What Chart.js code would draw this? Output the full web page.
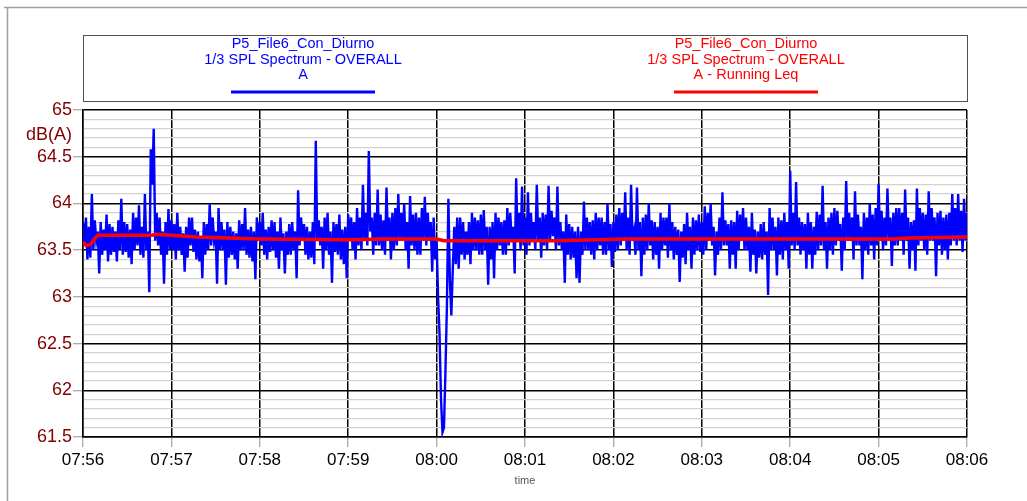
<!DOCTYPE html>
<html>
<head>
<meta charset="utf-8">
<script src="https://cdn.jsdelivr.net/npm/chart.js@4.4.1/dist/chart.umd.min.js"></script>
<style>
  body { margin: 0; background: #fff; }
  #chart { display: block; }
</style>
</head>
<body>
<canvas id="chart" width="1027" height="501"></canvas>
<script>
// x axis: seconds from 07:56, one label per minute
const timeLabels = ['07:56', '07:57', '07:58', '07:59', '08:00', '08:01', '08:02', '08:03', '08:04', '08:05', '08:06'];

// blue series, one reading per second
const blueStep = 1;
const levelA = [
  63.8, 63.55, 63.85, 63.4, 63.75, 63.42, 64.1, 63.5, 63.82, 63.6, 63.7, 63.25, 63.8, 63.45, 63.72, 63.5, 63.88, 63.38, 63.78, 63.45,
  63.75, 63.48, 63.7, 63.38, 63.82, 63.5, 64.05, 63.45, 63.8, 63.48, 63.78, 63.42, 63.72, 63.35, 63.9, 63.5, 63.85, 63.55, 63.98, 63.45,
  63.75, 63.42, 64.1, 63.5, 63.7, 63.05, 64.58, 64.2, 64.8, 63.6, 63.9, 63.55, 63.85, 63.45, 63.7, 63.14, 63.8, 63.45, 63.94, 63.5,
  63.82, 63.5, 63.78, 63.4, 63.9, 63.5, 63.75, 63.45, 63.68, 63.27, 63.75, 63.42, 63.85, 63.55, 63.85, 63.48, 63.72, 63.4, 63.7, 63.38,
  63.65, 63.2, 63.8, 63.45, 63.78, 63.5, 63.99, 63.55, 63.85, 63.6, 63.7, 63.14, 63.95, 63.5, 63.8, 63.5, 63.72, 63.13, 63.8, 63.42,
  63.75, 63.45, 63.7, 63.4, 63.68, 63.3, 63.82, 63.5, 63.78, 63.5, 63.95, 63.45, 63.72, 63.42, 63.75, 63.38, 63.7, 63.19, 63.85, 63.6,
  63.8, 63.55, 63.9, 63.45, 63.72, 63.4, 63.75, 63.48, 63.82, 63.5, 63.8, 63.42, 63.7, 63.3, 63.85, 63.5, 63.68, 63.25, 63.7, 63.45,
  63.78, 63.45, 63.8, 63.5, 63.7, 63.2, 64.14, 63.55, 63.85, 63.6, 63.78, 63.45, 63.75, 63.4, 63.7, 63.42, 63.8, 63.35, 64.67, 63.6,
  63.82, 63.55, 63.75, 63.3, 63.85, 63.5, 63.9, 63.45, 63.7, 63.15, 63.8, 63.48, 63.78, 63.45, 63.88, 63.4, 63.72, 63.35, 63.75, 63.2,
  63.88, 63.6, 63.85, 63.5, 63.8, 63.4, 63.95, 63.55, 63.85, 63.5, 64.2, 63.6, 63.9, 63.55, 64.56, 63.7, 63.85, 63.45, 63.9, 63.55,
  64.15, 63.55, 63.88, 63.5, 63.82, 63.45, 64.17, 63.6, 63.85, 63.4, 63.9, 63.5, 63.95, 63.55, 64.1, 63.6, 63.9, 63.6, 64.0, 63.5,
  63.8, 63.3, 64.08, 63.55, 63.88, 63.5, 63.9, 63.45, 63.85, 63.45, 63.95, 63.6, 64.07, 63.55, 63.9, 63.6, 63.8, 63.27, 63.85, 63.4,
  63.6, 63.0, 62.6, 61.9, 61.55, 61.6, 62.2, 62.9, 64.05, 63.18, 62.8, 63.3, 63.75, 63.35, 63.85, 63.3, 63.85, 63.45, 63.8, 63.4,
  63.7, 63.45, 63.8, 63.35, 63.9, 63.5, 63.85, 63.5, 63.82, 63.45, 63.88, 63.45, 63.93, 63.5, 63.75, 63.13, 63.75, 63.4, 63.8, 63.2,
  63.9, 63.5, 63.85, 63.55, 63.8, 63.45, 63.82, 63.45, 63.95, 63.55, 63.9, 63.6, 63.75, 63.25, 64.27, 63.6, 63.9, 63.5, 64.18, 63.55,
  63.85, 63.45, 64.12, 63.55, 63.9, 63.6, 63.8, 63.5, 64.2, 63.6, 63.85, 63.42, 63.9, 63.55, 63.88, 63.5, 64.19, 63.6, 63.92, 63.65,
  63.85, 63.5, 64.18, 63.55, 63.8, 63.5, 63.7, 63.15, 63.88, 63.45, 63.78, 63.4, 63.75, 63.42, 63.7, 63.2, 63.75, 63.15, 63.7, 63.45,
  64.02, 63.5, 63.85, 63.5, 63.8, 63.45, 63.82, 63.4, 63.9, 63.5, 63.85, 63.55, 63.85, 63.45, 63.8, 63.45, 64.0, 63.5, 63.78, 63.32,
  63.8, 63.48, 63.88, 63.5, 63.95, 63.55, 63.9, 63.6, 64.12, 63.5, 63.85, 63.45, 64.2, 63.6, 63.7, 63.45, 64.17, 63.5, 63.8, 63.22,
  63.85, 63.45, 63.88, 63.5, 64.0, 63.55, 63.82, 63.4, 63.8, 63.45, 63.75, 63.3, 63.9, 63.5, 63.85, 63.55, 63.85, 63.42, 64.0, 63.5,
  63.8, 63.4, 63.75, 63.45, 63.72, 63.16, 63.7, 63.42, 63.78, 63.35, 63.9, 63.5, 63.75, 63.3, 63.85, 63.45, 63.82, 63.5, 63.88, 63.48,
  63.8, 63.45, 63.97, 63.5, 63.9, 63.6, 64.0, 63.55, 63.75, 63.23, 63.7, 63.45, 63.85, 63.5, 64.12, 63.55, 63.82, 63.55, 63.78, 63.3,
  63.82, 63.45, 63.8, 63.3, 63.92, 63.5, 63.88, 63.6, 63.95, 63.5, 63.85, 63.5, 63.75, 63.27, 63.9, 63.45, 63.72, 63.25, 63.7, 63.42,
  63.78, 63.4, 63.8, 63.45, 63.7, 63.02, 63.95, 63.5, 63.85, 63.5, 63.75, 63.23, 63.85, 63.45, 63.82, 63.4, 63.9, 63.5, 63.8, 63.3,
  64.35, 63.55, 63.9, 63.5, 64.23, 63.55, 63.85, 63.45, 63.8, 63.5, 63.78, 63.3, 63.9, 63.45, 63.8, 63.3, 63.75, 63.45, 63.91, 63.5,
  63.88, 63.55, 64.19, 63.5, 63.8, 63.3, 63.85, 63.5, 63.9, 63.45, 63.95, 63.55, 63.92, 63.6, 63.78, 63.28, 63.85, 63.5, 64.24, 63.6,
  63.9, 63.6, 63.85, 63.4, 64.13, 63.55, 63.88, 63.55, 63.75, 63.19, 63.9, 63.5, 63.85, 63.45, 64.0, 63.55, 63.88, 63.4, 63.95, 63.55,
  64.21, 63.6, 63.92, 63.5, 63.85, 63.55, 64.16, 63.6, 63.85, 63.33, 63.9, 63.55, 63.95, 63.55, 63.95, 63.6, 63.9, 63.45, 64.15, 63.6,
  63.85, 63.3, 63.8, 63.5, 63.82, 63.28, 64.16, 63.55, 63.95, 63.6, 63.9, 63.5, 63.88, 63.45, 64.13, 63.6, 63.95, 63.6, 63.85, 63.22,
  63.9, 63.55, 63.92, 63.45, 63.85, 63.5, 63.88, 63.4, 63.9, 63.55, 64.1, 63.6, 63.95, 63.55, 64.1, 63.6, 63.92, 63.48, 64.05, 63.6,
  63.9
];

// red series: running Leq
const leqTimes  = [0, 2, 5, 8, 10, 20, 40, 47, 49, 60, 77, 120, 180, 203, 240, 245, 320, 370, 460, 550, 560, 600];
const leqValues = [63.59, 63.55, 63.56, 63.62, 63.66, 63.66, 63.66, 63.66, 63.67, 63.66, 63.64, 63.62, 63.61, 63.62, 63.62, 63.6, 63.6, 63.62, 63.62, 63.62, 63.63, 63.64];

const seriesBlue = ['P5_File6_Con_Diurno', '1/3 SPL Spectrum - OVERALL', 'A'];
const seriesRed = ['P5_File6_Con_Diurno', '1/3 SPL Spectrum - OVERALL', 'A - Running Leq'];

const isMajor = v => Math.abs(v * 2 - Math.round(v * 2)) < 1e-6;

const decorations = {
  id: 'decorations',
  beforeDraw(chart) {
    const ctx = chart.ctx;
    ctx.save();
    ctx.fillStyle = '#fff';
    ctx.fillRect(0, 0, chart.width, chart.height);
    ctx.strokeStyle = '#a0a0a0';
    ctx.lineWidth = 1.5;
    ctx.beginPath();
    ctx.moveTo(4, 7.5);
    ctx.lineTo(chart.width, 7.5);
    ctx.moveTo(7.5, 7.5);
    ctx.lineTo(7.5, chart.height);
    ctx.stroke();
    ctx.restore();
  },
  afterDraw(chart) {
    const ctx = chart.ctx;
    const area = chart.chartArea;
    ctx.save();
    // legend box
    ctx.strokeStyle = '#505050';
    ctx.lineWidth = 1;
    ctx.strokeRect(area.left + 0.5, 35.5, area.right - area.left, 66);
    ctx.font = '14.5px Arial, "Liberation Sans", sans-serif';
    ctx.textAlign = 'center';
    ctx.textBaseline = 'middle';
    const cols = [[303, '#0000ff', seriesBlue], [746, '#ff0000', seriesRed]];
    cols.forEach(([cx, color, lines]) => {
      ctx.fillStyle = color;
      lines.forEach((t, i) => ctx.fillText(t, cx, 44 + i * 15.5));
      ctx.strokeStyle = color;
      ctx.lineWidth = 3;
      ctx.beginPath();
      ctx.moveTo(cx - 72, 92);
      ctx.lineTo(cx + 72, 92);
      ctx.stroke();
    });
    // unit label
    ctx.fillStyle = '#800000';
    ctx.font = '18px Arial, "Liberation Sans", sans-serif';
    ctx.textAlign = 'right';
    ctx.fillText('dB(A)', area.left - 11, 135);
    // axis name
    ctx.fillStyle = '#555';
    ctx.font = '11px Arial, "Liberation Sans", sans-serif';
    ctx.textAlign = 'center';
    ctx.fillText('time', (area.left + area.right) / 2, 481);
    ctx.restore();
  }
};

new Chart(document.getElementById('chart').getContext('2d'), {
  type: 'line',
  data: {
    datasets: [
      {
        label: 'A - Running Leq',
        data: leqTimes.map((t, i) => ({ x: t, y: leqValues[i] })),
        borderColor: '#ff0000',
        borderWidth: 3.5,
        pointRadius: 0,
        tension: 0
      },
      {
        label: 'A',
        data: levelA.map((v, i) => ({ x: i * blueStep, y: v })),
        borderColor: '#0000ff',
        borderWidth: 2.4,
        pointRadius: 0,
        tension: 0
      }
    ]
  },
  options: {
    responsive: false,
    animation: false,
    devicePixelRatio: 1,
    layout: { padding: { left: 0, top: 110, right: 60, bottom: 0 } },
    plugins: {
      legend: { display: false },
      tooltip: { enabled: false }
    },
    scales: {
      x: {
        type: 'linear',
        min: 0,
        max: 600,
        afterFit(scale) { scale.height = 64; },
        border: { color: '#000', width: 1.5 },
        grid: { color: '#000', lineWidth: 1.5, tickLength: 10, tickColor: '#909090', tickWidth: 1 },
        ticks: {
          stepSize: 60,
          autoSkip: false,
          maxRotation: 0,
          padding: 3,
          color: '#000',
          font: { family: 'Arial, "Liberation Sans", sans-serif', size: 17 },
          callback: v => timeLabels[Math.round(v / 60)]
        }
      },
      y: {
        min: 61.5,
        max: 65,
        afterFit(scale) { scale.width = 83; },
        border: { color: '#000', width: 1.5 },
        grid: {
          color: c => isMajor(c.tick.value) ? '#000' : '#d2d2d2',
          lineWidth: c => isMajor(c.tick.value) ? 1.5 : 1.2,
          tickLength: 10,
          tickColor: c => isMajor(c.tick.value) ? '#909090' : 'rgba(0,0,0,0)',
          tickWidth: 1
        },
        ticks: {
          stepSize: 0.1,
          autoSkip: false,
          padding: 1,
          color: '#800000',
          font: { family: 'Arial, "Liberation Sans", sans-serif', size: 18 },
          callback: v => isMajor(v) ? String(Math.round(v * 2) / 2) : ''
        }
      }
    }
  },
  plugins: [decorations]
});
</script>
</body>
</html>
